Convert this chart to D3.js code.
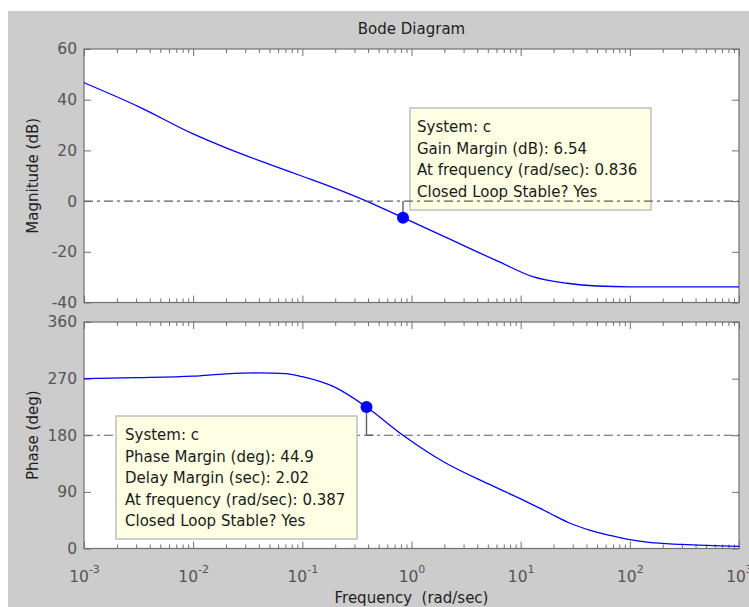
<!DOCTYPE html>
<html>
<head>
<meta charset="utf-8">
<script src="https://cdn.jsdelivr.net/npm/d3@7/dist/d3.min.js"></script>
<style>
  html, body { margin: 0; padding: 0; background: #ffffff; }
  svg { display: block; }
  text { font-family: "DejaVu Sans", sans-serif; }
</style>
</head>
<body>
<svg id="chart" width="749" height="607"></svg>
<script>
// Open-loop response of system "c"
const magFreq = [0.001, 0.00326, 0.01, 0.02, 0.05, 0.1, 0.2, 0.387, 0.836, 2, 6.46, 12.9, 26.5, 50, 100, 1000];
const magDb   = [46.7, 37, 26.5, 21, 14.5, 9.8, 5, 0, -6.54, -14, -24.1, -29.8, -32.4, -33.5, -33.8, -33.8];

const phaseFreq = [0.001, 0.003, 0.01, 0.02, 0.04, 0.07, 0.1, 0.2, 0.387, 0.836, 2, 5, 10, 18.5, 28, 43.5, 65.6, 100, 150, 300, 1000];
const phaseDeg  = [270, 271.5, 274, 277.5, 279, 278, 273, 256, 224.9, 180, 137, 103, 79, 56, 40.5, 28.8, 20.8, 14, 9.6, 6.5, 3.5];

// Stability margins
const gainMarginDb = 6.54;
const gainMarginFreq = 0.836;
const phaseMarginDeg = 44.9;
const delayMarginSec = 2.02;
const phaseMarginFreq = 0.387;

// Axis ticks
const freqExponents = [-3, -2, -1, 0, 1, 2, 3];
const magTicks = [-40, -20, 0, 20, 40, 60];
const phaseTicks = [0, 90, 180, 270, 360];

// Data tip texts
const gainTip = [
  "System: c",
  "Gain Margin (dB): " + gainMarginDb,
  "At frequency (rad/sec): " + gainMarginFreq,
  "Closed Loop Stable? Yes"
];
const phaseTip = [
  "System: c",
  "Phase Margin (deg): " + phaseMarginDeg,
  "Delay Margin (sec): " + delayMarginSec,
  "At frequency (rad/sec): " + phaseMarginFreq,
  "Closed Loop Stable? Yes"
];

const svg = d3.select("#chart");
const L = 84, R = 739;
const magTop = 49, magBot = 302.5;
const phTop = 322, phBot = 548.5;

const axisColor = "#707070";
const tickLabelColor = "#555555";
const labelColor = "#1e1e1e";

// figure background
svg.append("rect").attr("x", 8).attr("y", 11).attr("width", 741).attr("height", 596).attr("fill", "#cccccc");

const x = d3.scaleLog().domain([1e-3, 1e3]).range([L, R]);
const yMag = d3.scaleLinear().domain([-40, 60]).range([magBot, magTop]);
const yPh = d3.scaleLinear().domain([0, 360]).range([phBot, phTop]);

const majors = freqExponents.map(e => Math.pow(10, e));
const minors = [];
for (let e = -3; e < 3; e++) for (let m = 2; m <= 9; m++) minors.push(m * Math.pow(10, e));

function panel(top, bot, yScale, ticks) {
  const g = svg.append("g");
  g.append("rect").attr("x", L).attr("y", top).attr("width", R - L).attr("height", bot - top).attr("fill", "#ffffff");
  const styleAxis = sel => {
    sel.select(".domain").remove();
    sel.selectAll(".tick line").attr("stroke", axisColor).attr("stroke-width", 1);
  };
  // x ticks, bottom and top edges, pointing inward
  g.append("g").attr("transform", `translate(0,${bot})`)
    .call(d3.axisBottom(x).tickValues(majors).tickSize(-7).tickSizeOuter(0).tickFormat("")).call(styleAxis);
  g.append("g").attr("transform", `translate(0,${bot})`)
    .call(d3.axisBottom(x).tickValues(minors).tickSize(-4).tickSizeOuter(0).tickFormat("")).call(styleAxis);
  g.append("g").attr("transform", `translate(0,${top})`)
    .call(d3.axisTop(x).tickValues(majors).tickSize(-7).tickSizeOuter(0).tickFormat("")).call(styleAxis);
  g.append("g").attr("transform", `translate(0,${top})`)
    .call(d3.axisTop(x).tickValues(minors).tickSize(-4).tickSizeOuter(0).tickFormat("")).call(styleAxis);
  // y ticks, left with labels, right without
  g.append("g").attr("transform", `translate(${L},0)`)
    .call(d3.axisLeft(yScale).tickValues(ticks).tickSize(-7).tickSizeOuter(0).tickPadding(7)
      .tickFormat(d => String(d)))
    .call(styleAxis)
    .call(s => s.selectAll("text").attr("fill", tickLabelColor).attr("font-size", 15.5)
      .attr("font-family", "DejaVu Sans, sans-serif"));
  g.append("g").attr("transform", `translate(${R},0)`)
    .call(d3.axisRight(yScale).tickValues(ticks).tickSize(-7).tickSizeOuter(0).tickFormat(""))
    .call(styleAxis);
  // box
  g.append("rect").attr("x", L).attr("y", top).attr("width", R - L).attr("height", bot - top)
    .attr("fill", "none").attr("stroke", axisColor).attr("stroke-width", 1.2);
  return g;
}

const magG = panel(magTop, magBot, yMag, magTicks);
const phG = panel(phTop, phBot, yPh, phaseTicks);

// frequency tick labels under the phase panel (powers of ten)
const xl = svg.append("g").attr("transform", `translate(0,${phBot})`)
  .call(d3.axisBottom(x).tickValues(majors).tickSize(0).tickPadding(22).tickFormat(""));
xl.select(".domain").remove();
xl.selectAll(".tick text").each(function(d) {
  const t = d3.select(this).attr("fill", tickLabelColor).attr("font-size", 15.5)
    .attr("font-family", "DejaVu Sans, sans-serif").attr("dy", "0.71em");
  t.append("tspan").text("10");
  t.append("tspan").attr("font-size", 11).attr("dy", "-0.75em").text(String(Math.round(Math.log10(d))));
});

const magLine = d3.line().x(d => x(d[0])).y(d => yMag(d[1])).curve(d3.curveMonotoneX);
const phLine = d3.line().x(d => x(d[0])).y(d => yPh(d[1])).curve(d3.curveMonotoneX);

const dashStyle = "9,4,3,4";
const refColor = "#5f5f5f";

// phase reference line at 180 deg (beneath the phase tip)
phG.append("line").attr("x1", L).attr("x2", R).attr("y1", yPh(180)).attr("y2", yPh(180))
  .attr("stroke", refColor).attr("stroke-width", 1.2).attr("stroke-dasharray", dashStyle);

// curves
magG.append("path").datum(magFreq.map((f, i) => [f, magDb[i]]))
  .attr("d", magLine).attr("fill", "none").attr("stroke", "#0000ff").attr("stroke-width", 1.3);
phG.append("path").datum(phaseFreq.map((f, i) => [f, phaseDeg[i]]))
  .attr("d", phLine).attr("fill", "none").attr("stroke", "#0000ff").attr("stroke-width", 1.3);

// data tips
function tip(g, bx, by, bw, bh, lines, tx, ty0) {
  g.append("rect").attr("x", bx).attr("y", by).attr("width", bw).attr("height", bh)
    .attr("fill", "#ffffe3").attr("stroke", "#c4c4c4").attr("stroke-width", 1.6);
  g.selectAll(null).data(lines).enter().append("text")
    .attr("x", tx).attr("y", (d, i) => ty0 + i * 21.5)
    .attr("dominant-baseline", "central")
    .attr("font-size", 15).attr("fill", "#1a1a1a").text(d => d);
}
tip(magG, 410, 108, 241, 102, gainTip, 417, 127);
tip(phG, 116, 416, 241, 123, phaseTip, 125, 435);

// 0 dB reference line
magG.append("line").attr("x1", L).attr("x2", R).attr("y1", yMag(0)).attr("y2", yMag(0))
  .attr("stroke", refColor).attr("stroke-width", 1.2).attr("stroke-dasharray", dashStyle);

// margin stems and markers
magG.append("line").attr("x1", x(gainMarginFreq)).attr("x2", x(gainMarginFreq))
  .attr("y1", yMag(0)).attr("y2", yMag(-gainMarginDb)).attr("stroke", refColor).attr("stroke-width", 1.4);
magG.append("circle").attr("cx", x(gainMarginFreq)).attr("cy", yMag(-gainMarginDb)).attr("r", 6).attr("fill", "#0000ff");

phG.append("line").attr("x1", x(phaseMarginFreq)).attr("x2", x(phaseMarginFreq))
  .attr("y1", yPh(180)).attr("y2", yPh(180 + phaseMarginDeg)).attr("stroke", refColor).attr("stroke-width", 1.4);
phG.append("line").attr("x1", x(phaseMarginFreq)).attr("x2", x(phaseMarginFreq) + 7)
  .attr("y1", yPh(180)).attr("y2", yPh(180)).attr("stroke", refColor).attr("stroke-width", 1.4);
phG.append("circle").attr("cx", x(phaseMarginFreq)).attr("cy", yPh(180 + phaseMarginDeg)).attr("r", 6).attr("fill", "#0000ff");

// titles
svg.append("text").attr("x", (L + R) / 2).attr("y", 29).attr("text-anchor", "middle")
  .attr("dominant-baseline", "central").attr("font-size", 15).attr("fill", labelColor).text("Bode Diagram");
svg.append("text").attr("transform", `translate(33,${(magTop + magBot) / 2}) rotate(-90)`)
  .attr("text-anchor", "middle").attr("dominant-baseline", "central")
  .attr("font-size", 15).attr("fill", labelColor).text("Magnitude (dB)");
svg.append("text").attr("transform", `translate(33,${(phTop + phBot) / 2}) rotate(-90)`)
  .attr("text-anchor", "middle").attr("dominant-baseline", "central")
  .attr("font-size", 15).attr("fill", labelColor).text("Phase (deg)");
svg.append("text").attr("x", (L + R) / 2).attr("y", 598).attr("text-anchor", "middle")
  .attr("dominant-baseline", "central").attr("font-size", 15).attr("fill", labelColor)
  .attr("xml:space", "preserve").style("white-space", "pre").text("Frequency  (rad/sec)");
</script>
</body>
</html>
